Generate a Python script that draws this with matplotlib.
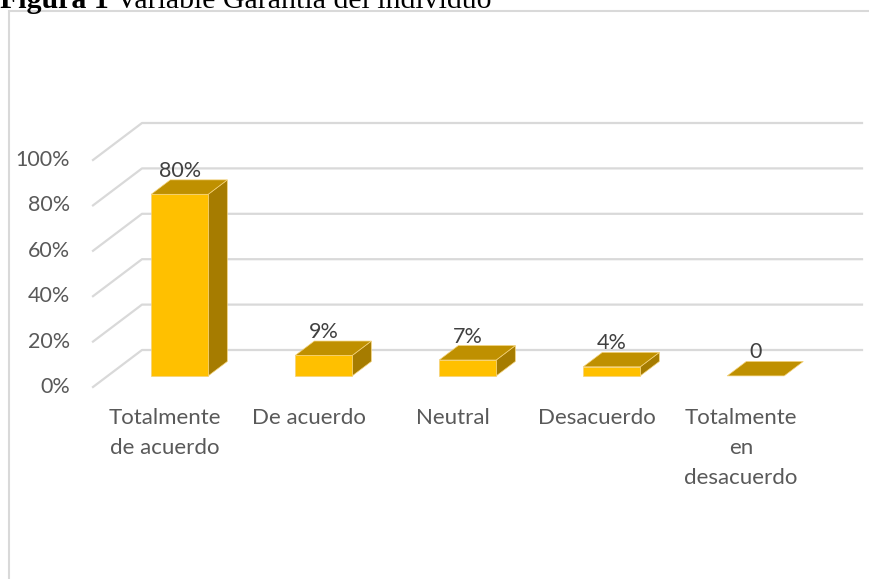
import matplotlib
matplotlib.use("Agg")
import matplotlib.pyplot as plt
from matplotlib.patches import Polygon, Rectangle
from matplotlib.lines import Line2D
from matplotlib.transforms import Affine2D
import numpy as np

categories = ["Totalmente\nde acuerdo", "De acuerdo", "Neutral", "Desacuerdo", "Totalmente\nen\ndesacuerdo"]
values = [0.80, 0.09, 0.07, 0.04, 0.0]
value_labels = ["80%", "9%", "7%", "4%", "0"]
yticks = [0.0, 0.2, 0.4, 0.6, 0.8, 1.0]
ytick_labels = ["0%", "20%", "40%", "60%", "80%", "100%"]

W, H = 869, 579
fig = plt.figure(figsize=(W / 100, H / 100), dpi=100)
fig.patch.set_facecolor("white")

# front floor plane of the 3D chart
left, right, bottom_px, top_px = 93, 813, 387, 160
ax = fig.add_axes([left / W, (H - bottom_px) / H, (right - left) / W, (bottom_px - top_px) / H])
ax.set_xlim(-0.5, len(categories) - 0.5)
ax.set_ylim(0, 1.0)
ax.axis("off")

DEPTH_X, DEPTH_Y = 49, 37  # pixel offset of the back wall


def to_disp(x, y, d):
    p = ax.transData.transform((x, y))
    return (p[0] + DEPTH_X * d, p[1] + DEPTH_Y * d)


grid_c = "#D9D9D9"
font = "Lato"
for v, lab in zip(yticks, ytick_labels):
    p0 = to_disp(-0.5, v, 0)
    p1 = to_disp(-0.5, v, 1)
    p2 = to_disp(len(categories) - 0.5, v, 1)
    fig.add_artist(Line2D([p0[0], p1[0], p2[0]], [p0[1], p1[1], p2[1]], transform=None,
                          color=grid_c, lw=1.6, zorder=1))
    ax.text(-0.5, v, lab, transform=ax.transData + Affine2D().translate(-23, 0),
            ha="right", va="center", fontsize=15.5, color="#595959", family=font)

bw = 0.396
d0, d1 = 0.30, 0.69
front_c = "#FFC000"
top_c = "#BF9000"
side_c = "#A67C00"
edge_c = "#F4D27A"
for i, (v, vl) in enumerate(zip(values, value_labels)):
    xl, xr = i - bw / 2, i + bw / 2
    if v > 0:
        side = [to_disp(xr, 0, d0), to_disp(xr, 0, d1), to_disp(xr, v, d1), to_disp(xr, v, d0)]
        fig.add_artist(Polygon(side, closed=True, transform=None, facecolor=side_c,
                               edgecolor=edge_c, lw=0.5, zorder=3))
    top = [to_disp(xl, v, d0), to_disp(xr, v, d0), to_disp(xr, v, d1), to_disp(xl, v, d1)]
    fig.add_artist(Polygon(top, closed=True, transform=None, facecolor=top_c,
                           edgecolor=edge_c, lw=0.5, zorder=3))
    if v > 0:
        front = [to_disp(xl, 0, d0), to_disp(xr, 0, d0), to_disp(xr, v, d0), to_disp(xl, v, d0)]
        fig.add_artist(Polygon(front, closed=True, transform=None, facecolor=front_c,
                               edgecolor=edge_c, lw=0.5, zorder=4))
    lp = to_disp(i, v, d1)
    fp = to_disp(i, v, d0)
    fig.text(fp[0] / W, (lp[1] - 1) / H, vl, ha="center", va="bottom", fontsize=15.5,
             color="#404040", family=font, zorder=5)

for i, c in enumerate(categories):
    ax.text(i, 0, c, transform=ax.transData + Affine2D().translate(0, -21),
            ha="center", va="top", fontsize=16, color="#595959", family=font,
            linespacing=1.62)

# chart border
fig.add_artist(Rectangle((9 / W, -0.1), 1.2, (H - 11) / H + 0.1, transform=fig.transFigure,
                         fill=False, edgecolor="#D9D9D9", lw=1.5))

# title (cut off at the top like the reference)
t1 = fig.text(0.0, (H - 8) / H, "Figura 1", ha="left", va="baseline", fontsize=21.5,
              fontweight="bold", family="Liberation Serif", color="black")
fig.canvas.draw()
bb = t1.get_window_extent(fig.canvas.get_renderer())
fig.text(bb.x1 / W, (H - 8) / H, " Variable Garantía del individuo", ha="left", va="baseline",
         fontsize=21.5, family="Liberation Serif", color="black")

fig.savefig("out.png", dpi=100, facecolor="white")
